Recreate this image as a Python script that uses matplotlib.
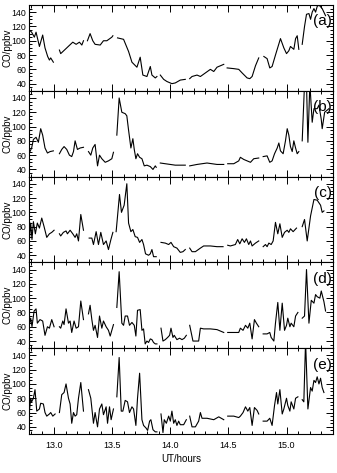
import numpy as np
import matplotlib
matplotlib.use("Agg")
import matplotlib.pyplot as plt
from matplotlib.ticker import MultipleLocator

nan = np.nan

# ---------------- data (UT hours, CO ppbv); NaN marks data gaps ----------------
t_a = [12.787, 12.807, 12.830, 12.845, 12.874, 12.902, 12.922, 12.945, 12.960, 12.971, 12.994, nan,
       13.046, 13.057, 13.109, 13.161, 13.190, 13.218, 13.239, 13.253, nan,
       13.287, 13.310, 13.333, 13.353, 13.397, 13.425, 13.454, 13.497, 13.506, nan,
       13.546, 13.598, 13.641, 13.670, 13.713, 13.741, 13.764, 13.799, 13.828, 13.842, 13.871, 13.885, nan,
       13.914, 13.943, 13.971, 14.014, 14.043, 14.086, 14.129, nan,
       14.167, 14.187, 14.230, 14.259, 14.302, 14.345, 14.374, 14.402, 14.431, 14.460, nan,
       14.489, 14.546, 14.589, 14.618, 14.661, 14.684, 14.704, 14.733, 14.761, nan,
       14.805, 14.833, 14.856, 14.876, 14.905, 14.948, 14.977, 15.000, 15.020, 15.034, 15.063, 15.078, 15.092, 15.106, nan,
       15.135, 15.155, 15.172, 15.193, 15.207, 15.221, 15.236, 15.250, 15.264, 15.279, 15.307, 15.336]
co_a = [115, 112, 105, 112, 92, 108, 90, 78, 73, 76, 70, nan,
        87, 82, 90, 98, 95, 98, 94, 100, nan,
        100, 110, 100, 95, 94, 100, 100, 105, 107, nan,
        104, 102, 85, 70, 63, 77, 52, 50, 64, 52, 48, 50, nan,
        52, 46, 43, 40, 41, 45, 46, nan,
        47, 50, 52, 50, 55, 60, 57, 63, 65, 67, nan,
        62, 61, 60, 55, 48, 47, 50, 65, 76, nan,
        78, 75, 62, 64, 80, 103, 90, 82, 86, 92, 88, 103, 107, 88, nan,
        95, 120, 137, 138, 130, 140, 145, 140, 148, 150, 145, 135]

t_b = [12.787, 12.807, 12.822, 12.845, 12.865, 12.885, 12.902, 12.922, 12.943, 12.966, 12.994, nan,
       13.046, 13.066, 13.086, 13.109, 13.132, 13.152, 13.167, 13.181, 13.201, 13.224, 13.253, nan,
       13.296, 13.316, 13.333, 13.353, 13.374, 13.391, 13.411, 13.440, 13.468, 13.497, 13.511, nan,
       13.540, 13.560, 13.583, 13.612, 13.626, 13.641, 13.661, 13.678, 13.690, 13.704, 13.718, 13.736, 13.756,
       13.776, 13.799, 13.828, 13.851, 13.871, 13.879, nan,
       13.914, 13.957, 14.000, 14.043, 14.129, nan,
       14.167, 14.230, 14.316, 14.402, 14.460, nan,
       14.494, 14.546, 14.589, 14.603, 14.632, 14.661, 14.690, 14.718, 14.761, nan,
       14.799, 14.833, 14.856, 14.876, 14.897, 14.920, 14.934, 14.948, 14.971, 14.991, 15.006, 15.020, 15.034,
       15.049, 15.063, 15.078, 15.092, 15.106, nan,
       15.135, 15.155, 15.172, 15.184, 15.201, 15.221, 15.236, 15.264, 15.279, 15.299, 15.307, 15.328, 15.365]
co_b = [63, 70, 82, 85, 78, 97, 88, 70, 63, 65, 66, nan,
        62, 68, 72, 68, 60, 58, 65, 80, 68, 70, 71, nan,
        65, 60, 70, 75, 45, 60, 55, 50, 52, 55, 64, nan,
        88, 140, 120, 118, 115, 95, 70, 83, 68, 55, 62, 57, 55,
        45, 46, 44, 40, 45, 43, nan,
        49, 48, 47, 46, 46, nan,
        45, 47, 49, 47, 47, nan,
        48, 48, 52, 57, 54, 52, 50, 55, 56, nan,
        58, 59, 50, 52, 62, 70, 77, 66, 62, 80, 97, 88, 72,
        65, 80, 70, 62, 65, nan,
        80, 160, 160, 78, 160, 106, 125, 125, 130, 110, 97, 120, 125]

t_c = [12.787, 12.799, 12.810, 12.822, 12.839, 12.856, 12.874, 12.894, 12.914, 12.937, 12.960, 12.980, 13.000, nan,
       13.046, 13.057, 13.080, 13.103, 13.115, 13.138, 13.161, 13.181, 13.195, 13.210, 13.230, 13.253, nan,
       13.302, 13.325, 13.339, 13.362, 13.382, 13.402, 13.425, 13.448, 13.468, 13.489, 13.506, nan,
       13.534, 13.563, 13.580, 13.603, 13.626, 13.641, 13.661, 13.678, 13.698, 13.718, 13.736, 13.756, 13.770,
       13.787, 13.813, 13.828, 13.842, 13.856, 13.879, nan,
       13.920, 13.957, 13.986, 14.006, 14.029, 14.057, 14.086, 14.109, 14.129, nan,
       14.167, 14.187, 14.216, 14.259, 14.287, 14.345, 14.402, 14.454, nan,
       14.494, 14.517, 14.560, 14.580, 14.598, 14.618, 14.638, 14.655, 14.675, 14.690, 14.704, 14.733, 14.761, nan,
       14.799, 14.819, 14.833, 14.848, 14.868, 14.885, 14.905, 14.925, 14.943, 14.963, 14.983, 15.006, 15.020,
       15.034, 15.057, 15.086, nan,
       15.135, 15.155, 15.178, 15.207, 15.236, 15.264, 15.293, 15.307, 15.322]
co_c = [60, 85, 62, 87, 70, 85, 78, 92, 80, 65, 70, 72, 75, nan,
        70, 67, 72, 74, 70, 75, 70, 65, 70, 60, 97, 75, nan,
        64, 64, 55, 73, 55, 72, 55, 60, 48, 62, 72, nan,
        73, 125, 100, 110, 140, 85, 73, 76, 66, 65, 58, 62, 55,
        42, 40, 42, 48, 38, 38, nan,
        58, 57, 55, 58, 52, 50, 44, 45, 48, nan,
        50, 45, 45, 50, 53, 53, 52, 52, nan,
        54, 53, 55, 62, 56, 63, 58, 63, 55, 60, 53, 57, 60, nan,
        52, 55, 52, 57, 55, 60, 86, 70, 84, 65, 72, 75, 72,
        77, 73, 78, nan,
        80, 90, 60, 95, 118, 117, 110, 100, 102]

t_d = [12.787, 12.799, 12.810, 12.828, 12.845, 12.856, 12.879, 12.902, 12.922, 12.943, 12.960, 12.980, 13.000, nan,
       13.046, 13.057, 13.075, 13.086, 13.103, 13.124, 13.138, 13.152, 13.172, 13.190, 13.210, 13.230, 13.253, nan,
       13.296, 13.310, 13.325, 13.339, 13.353, 13.374, 13.391, 13.411, 13.425, 13.448, 13.468, 13.483, 13.506, 13.511, nan,
       13.540, 13.560, 13.583, 13.598, 13.612, 13.632, 13.649, 13.670, 13.690, 13.704, 13.718, 13.741, 13.756,
       13.770, 13.784, 13.799, 13.813, 13.828, 13.842, 13.856, 13.871, 13.885, nan,
       13.920, 13.937, 13.957, 13.977, 13.994, 14.006, 14.023, 14.034, 14.057, 14.080, 14.101, 14.121, 14.138, nan,
       14.167, 14.195, 14.244, 14.259, 14.287, 14.345, 14.402, 14.460, nan,
       14.494, 14.546, 14.589, 14.603, 14.626, 14.647, 14.667, 14.684, 14.704, 14.724, 14.741, 14.761, nan,
       14.799, 14.833, 14.856, 14.868, 14.891, 14.905, 14.925, 14.943, 14.963, 14.983, 15.000, 15.011, 15.029,
       15.040, 15.063, 15.078, 15.098, nan,
       15.135, 15.155, 15.172, 15.193, 15.213, 15.236, 15.250, 15.264, 15.287, 15.299, 15.322, 15.336]
co_d = [62, 72, 60, 82, 85, 65, 70, 68, 48, 60, 58, 70, 60, nan,
        60, 58, 68, 63, 85, 65, 68, 52, 68, 58, 60, 96, 70, nan,
        78, 90, 70, 55, 62, 45, 75, 58, 68, 60, 55, 47, 60, 63, nan,
        87, 137, 65, 62, 75, 75, 62, 66, 62, 47, 83, 84, 55,
        57, 36, 40, 38, 43, 42, 38, 36, 36, nan,
        58, 40, 42, 45, 48, 58, 45, 48, 42, 44, 42, 44, 48, nan,
        62, 40, 40, 58, 57, 57, 56, 52, nan,
        52, 52, 52, 58, 55, 62, 58, 65, 43, 70, 65, 60, nan,
        50, 50, 52, 45, 40, 65, 94, 55, 93, 55, 62, 72, 60,
        65, 60, 75, 80, nan,
        72, 75, 140, 65, 97, 93, 105, 102, 100, 110, 95, 82]

t_e = [12.787, 12.799, 12.807, 12.822, 12.836, 12.851, 12.874, 12.885, 12.908, 12.922, 12.937, 12.960, 12.971,
       12.989, 13.009, nan,
       13.046, 13.066, 13.086, 13.103, 13.124, 13.138, 13.152, 13.167, 13.181, 13.195, 13.210, 13.230, 13.253, nan,
       13.296, 13.316, 13.339, 13.353, 13.374, 13.391, 13.411, 13.425, 13.448, 13.460, 13.477, 13.491, 13.511, nan,
       13.540, 13.560, 13.578, 13.592, 13.612, 13.632, 13.649, 13.670, 13.684, 13.704, 13.718, 13.736, 13.756,
       13.770, 13.793, 13.805, 13.822, 13.833, 13.851, 13.871, 13.885, nan,
       13.920, 13.937, 13.948, 13.966, 13.986, 14.000, 14.014, 14.029, 14.043, 14.057, 14.072, 14.086, 14.115, 14.138, nan,
       14.167, 14.187, 14.216, 14.244, 14.259, 14.273, 14.316, 14.374, 14.417, 14.460, nan,
       14.494, 14.546, 14.589, 14.603, 14.626, 14.647, 14.667, 14.684, 14.704, 14.724, 14.747, 14.761, nan,
       14.799, 14.833, 14.856, 14.876, 14.897, 14.914, 14.925, 14.943, 14.963, 14.977, 15.000, 15.011, 15.029,
       15.040, 15.063, 15.078, 15.098, nan,
       15.135, 15.149, 15.164, 15.184, 15.207, 15.221, 15.236, 15.250, 15.264, 15.279, 15.293, 15.307, 15.322]
co_e = [61, 80, 75, 80, 92, 62, 65, 73, 72, 60, 55, 58, 60,
        55, 58, nan,
        60, 85, 88, 100, 80, 72, 45, 60, 55, 57, 80, 102, 62, nan,
        92, 80, 45, 60, 40, 65, 72, 57, 68, 45, 68, 50, 65, nan,
        82, 137, 62, 62, 77, 75, 60, 68, 65, 42, 80, 115, 50,
        42, 38, 35, 48, 50, 36, 33, 33, nan,
        58, 32, 50, 45, 55, 48, 62, 45, 50, 42, 48, 43, 43, 50, nan,
        55, 40, 40, 48, 60, 52, 52, 50, 54, 50, nan,
        55, 55, 53, 55, 60, 68, 62, 67, 42, 67, 63, 58, nan,
        48, 48, 52, 42, 70, 88, 72, 92, 58, 65, 80, 70, 62,
        75, 65, 80, 82, nan,
        78, 75, 160, 65, 95, 90, 105, 102, 110, 100, 108, 95, 88]

panel_labels = ["(a)", "(b)", "(c)", "(d)", "(e)"]
y_ticks = [40, 60, 80, 100, 120, 140]
x_ticks = [13.0, 13.5, 14.0, 14.5, 15.0]

series = [(t_a, co_a), (t_b, co_b), (t_c, co_c), (t_d, co_d), (t_e, co_e)]

plt.rcParams["font.family"] = ["Liberation Sans", "DejaVu Sans"]

fig = plt.figure(figsize=(3.37, 4.73), dpi=100)
left, right = 28.5 / 337, 333 / 337
top_px, bot_px = 5, 434
h = (bot_px - top_px) / 5
ax_w_px = (right - left) * 337

for i, ((t, co), lab) in enumerate(zip(series, panel_labels)):
    y0 = 1 - (top_px + (i + 1) * h) / 473
    ax = fig.add_axes([left, y0, right - left, h / 473])
    ax.plot(t, co, color="black", lw=0.8)
    ax.set_xlim(12.78, 15.40)
    ax.set_ylim(30, 150)
    ax.set_yticks(y_ticks)
    ax.set_yticklabels([str(v) for v in y_ticks], fontsize=6.3)
    ax.yaxis.set_minor_locator(MultipleLocator(5))
    ax.set_xticks(x_ticks)
    ax.xaxis.set_minor_locator(MultipleLocator(0.1))
    ax.tick_params(which="both", direction="in", top=True, right=True, width=0.7, pad=1.5)
    ax.tick_params(which="major", length=5)
    ax.tick_params(which="minor", length=2.5)
    for s in ax.spines.values():
        s.set_linewidth(0.8)
    ax.set_ylabel("CO/ppbv", fontsize=7)
    ax.yaxis.set_label_coords(-16.0 / ax_w_px, 0.5)
    ax.text(15.31, 127, lab, fontsize=11, ha="center", va="center")
    if i < 4:
        ax.set_xticklabels([])
    else:
        ax.set_xticklabels([f"{v:.1f}" for v in x_ticks], fontsize=6.5)
        ax.tick_params(axis="x", pad=5)
        ax.set_xlabel("UT/hours", fontsize=7, labelpad=3)

fig.savefig("out.png", dpi=100)
